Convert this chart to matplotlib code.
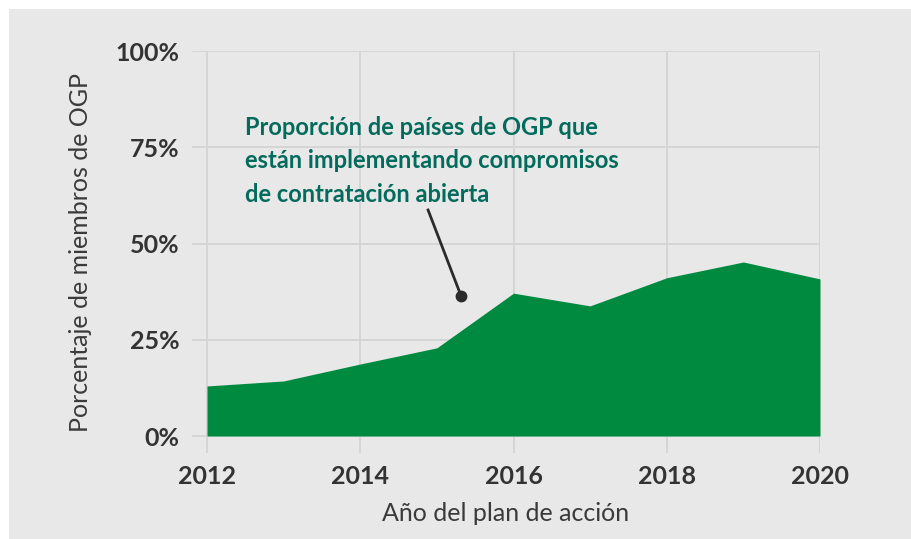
import matplotlib.pyplot as plt
from matplotlib.patches import Rectangle

years = [2012, 2013, 2014, 2015, 2016, 2017, 2018, 2019, 2020]
share = [13.0, 14.3, 18.7, 22.9, 37.1, 33.8, 41.1, 45.2, 40.8]
yticks = [0, 25, 50, 75, 100]
ytick_labels = ['0%', '25%', '50%', '75%', '100%']
xticks = [2012, 2014, 2016, 2018, 2020]

W, H = 911, 539
fig = plt.figure(figsize=(W / 100, H / 100), dpi=100)
fig.patch.set_facecolor('white')
fig.add_artist(Rectangle((9 / W, 0), 1, 1 - 9 / H, transform=fig.transFigure,
                         facecolor='#e8e8e8', edgecolor='none', zorder=-10))

ax = fig.add_axes([192 / W, 1 - 453 / H, (820 - 192) / W, (453 - 51) / H])
ax.set_facecolor('none')
ax.fill_between(years, 0, share, color='#008a3f', linewidth=0, zorder=2)

ax.set_xlim(2012 - 15 / 76.6, 2020)
ax.set_ylim(-17 / 3.85, 100)
ax.set_xticks(xticks)
ax.set_yticks(yticks)
ax.set_yticklabels(ytick_labels)
for s in ax.spines.values():
    s.set_visible(False)
ax.grid(True, color='#d4d4d4', linewidth=1.3, zorder=1)
ax.set_axisbelow(True)
ax.tick_params(length=0, pad=9, labelcolor='#333333')
for lab in ax.get_xticklabels() + ax.get_yticklabels():
    lab.set_fontfamily('Lato')
    lab.set_fontweight('bold')
    lab.set_fontsize(18)

ax.set_xlabel('Año del plan de acción', fontfamily='Lato', fontsize=18,
              color='#3a3a3a', labelpad=10)
ax.set_ylabel('Porcentaje de miembros de OGP', fontfamily='Lato', fontsize=18,
              color='#3a3a3a', labelpad=17)

ax.text(2012 + (245 - 207) / 76.6, 100 - (116 - 51) / 3.85,
        'Proporción de países de OGP que\nestán implementando compromisos\nde contratación abierta',
        fontfamily='Lato', fontweight='bold', fontsize=17, color='#036b5c',
        va='top', ha='left', linespacing=1.55)

p0 = (2012 + (428 - 207) / 76.6, (436 - 210) / 3.85)
p1 = (2012 + (461 - 207) / 76.6, (436 - 296) / 3.85)
ax.plot([p0[0], p1[0]], [p0[1], p1[1]], color='#2b2b2b', linewidth=2, zorder=3)
ax.plot([p1[0]], [p1[1]], 'o', color='#2b2b2b', markersize=7.5, zorder=3)

fig.savefig('out.png', dpi=100)
